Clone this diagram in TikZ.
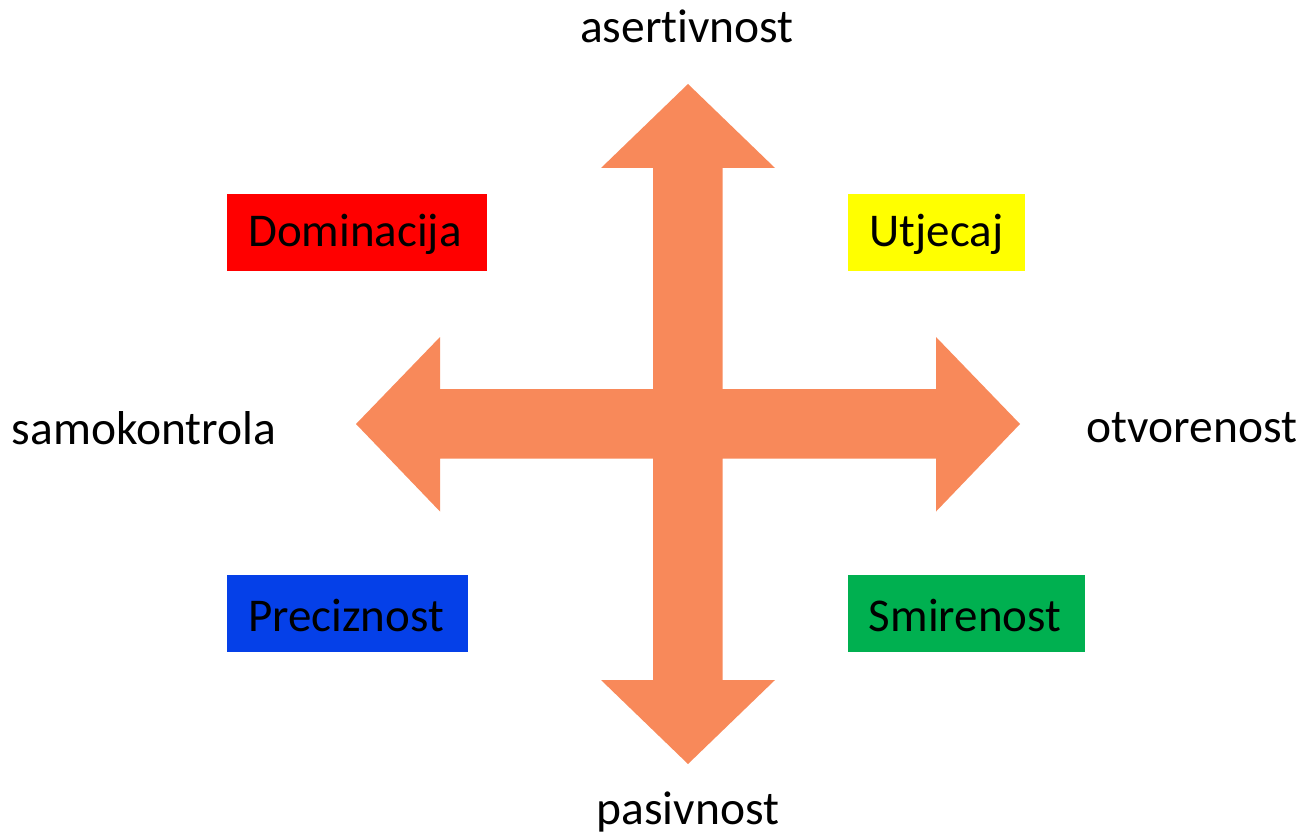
\documentclass[tikz,border=0pt]{standalone}
\usepackage{fontspec}
\setmainfont[Ligatures={NoCommon}]{Carlito}
\definecolor{arrowc}{HTML}{F8895A}
\definecolor{boxred}{HTML}{FF0000}
\definecolor{boxyellow}{HTML}{FFFF00}
\definecolor{boxblue}{HTML}{0540E8}
\definecolor{boxgreen}{HTML}{00B050}
\begin{document}
\begin{tikzpicture}[x=1pt,y=-1pt,
  lbl/.style={font=\fontsize{47.5}{50}\selectfont, inner sep=0pt, anchor=center},
  qbox/.style={inner sep=0pt, font=\fontsize{47}{50}\selectfont}]
\useasboundingbox (0,0) rectangle (1305,837);
% cross arrow
\fill[arrowc] (688,84) -- (775,168) -- (722.5,168) -- (722.5,389) -- (936,389) -- (936,337) -- (1020,424)
  -- (936,511.5) -- (936,458.5) -- (722.5,458.5) -- (722.5,680) -- (775,680) -- (688,764)
  -- (601,680) -- (653,680) -- (653,458.5) -- (440,458.5) -- (440,511.5) -- (356,424)
  -- (440,337) -- (440,389) -- (653,389) -- (653,168) -- (601,168) -- cycle;
% boxes
\fill[boxred] (227,194) rectangle (487,271);
\fill[boxyellow] (848,194) rectangle (1025,271);
\fill[boxblue] (227,575) rectangle (468,652);
\fill[boxgreen] (848,575) rectangle (1085,652);
\node[qbox] (dom) at (355,234) {Dominacija};
\node[qbox] (utj) at (936.5,234) {Utjecaj};
\node[qbox] (pre) at (346,615) {Preciznost};
\node[qbox] (smi) at (965,615) {Smirenost};
% axis labels
\node[lbl] (ase) at (687,26) {asertivnost};
\node[lbl] (sam) at (144,428) {samokontrola};
\node[lbl] (otv) at (1192,428) {otvorenost};
\node[lbl] (pas) at (688,812) {pasivnost};
\end{tikzpicture}
\end{document}
